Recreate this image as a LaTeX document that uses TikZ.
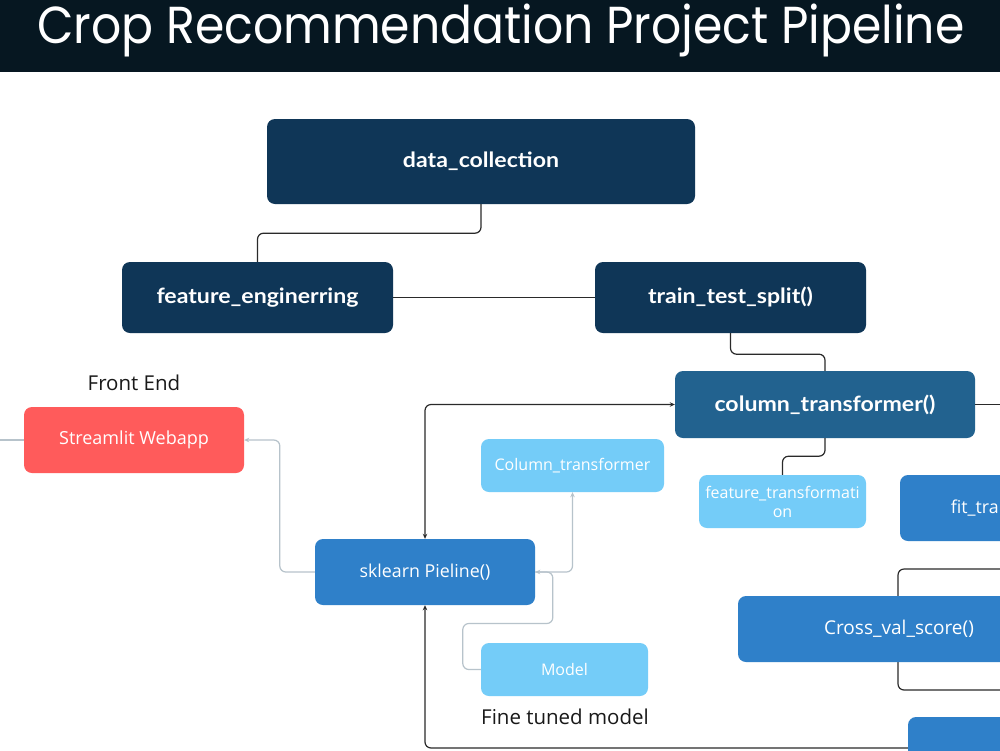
\documentclass[tikz,border=0pt]{standalone}
\usepackage{fontspec}
\usepackage{graphicx}
\setmainfont{Open Sans}
\newfontfamily\titlefont{Poppins}
\newfontfamily\headfont[FakeStretch=1.1]{Lato}
\usetikzlibrary{arrows.meta}
\definecolor{titlebar}{HTML}{061721}
\definecolor{navy}{HTML}{0F3657}
\definecolor{ctblue}{HTML}{22628F}
\definecolor{medblue}{HTML}{2F80C9}
\definecolor{lightblue}{HTML}{74CCF8}
\definecolor{redbox}{HTML}{FF5B5B}
\definecolor{linegray}{HTML}{B7C3CB}
\definecolor{lineblack}{HTML}{2A2A2A}
\begin{document}
\begin{tikzpicture}[x=1pt,y=-1pt,
  boxbase/.style={rounded corners=8pt, inner sep=0pt, align=center, text=white},
  navybox/.style={boxbase, fill=navy, font=\headfont\bfseries\fontsize{21}{24}\selectfont},
  ctbox/.style={boxbase, fill=ctblue, font=\headfont\bfseries\fontsize{21}{24}\selectfont},
  medbox/.style={boxbase, fill=medblue, text=white, font=\fontsize{17.8}{21}\selectfont},
  lightbox/.style={boxbase, fill=lightblue, font=\fontsize{16}{19}\selectfont},
  redbx/.style={boxbase, fill=redbox, font=\fontsize{18}{21}\selectfont},
  caption/.style={inner sep=0pt, text=black!90, font=\fontsize{20.5}{24}\selectfont},
  blackline/.style={draw=lineblack, line width=1.2pt, rounded corners=6pt},
  grayline/.style={draw=linegray, line width=1.2pt, rounded corners=6pt},
  tip/.tip={Stealth[length=5pt,width=4.5pt]}
]
\useasboundingbox (0,0) rectangle (1000,750);
\clip (0,0) rectangle (1000,750);
\fill[white] (0,0) rectangle (1000,750);
\fill[titlebar] (0,0) rectangle (1000,72);
\node[anchor=base, inner sep=0pt, text=white, font=\titlefont\fontsize{52}{56}\selectfont] (title) at (501,43)
  {\resizebox{927pt}{\height}{Crop Recommendation Project Pipeline}};

% coordinates for free connector ends
\coordinate (ctr) at (1010,404.5);
\coordinate (swl) at (-10,440);
\coordinate (fa) at (1010,569);
\coordinate (fb) at (1010,690);

% frame behind Cross_val_score
\draw[blackline] (fa) -- ++(-112,0) |- (fb);

% nodes
\node[navybox, minimum width=428pt, minimum height=85pt] (dc) at (481,161.5) {data\_collection};
\node[navybox, minimum width=271pt, minimum height=71pt] (fe) at (257.5,297.5) {feature\_enginerring};
\node[navybox, minimum width=271pt, minimum height=71pt] (tts) at (730.5,297.5) {train\_test\_split()};
\node[ctbox, minimum width=300pt, minimum height=67pt] (ct) at (825,404.5) {column\_transformer()};
\node[lightbox, minimum width=167pt, minimum height=53pt] (ft) at (782.5,501.5) {feature\_transformati\\on};
\node[medbox, minimum width=220pt, minimum height=66pt] (fit) at (1010,508) {fit\_transform()};
\node[medbox, minimum width=322pt, minimum height=66pt, font=\fontsize{19}{22}\selectfont] (cvs) at (899,629) {Cross\_val\_score()};
\node[medbox, minimum width=200pt, minimum height=62pt] (bot) at (1008,748) {};
\node[redbx, minimum width=220pt, minimum height=66pt] (sw) at (134,440) {Streamlit Webapp};
\node[lightbox, minimum width=183pt, minimum height=53pt] (ctl) at (572.5,465.5) {Column\_transformer};
\node[medbox, minimum width=220pt, minimum height=66pt] (skl) at (425,572) {sklearn Pieline()};
\node[lightbox, minimum width=167pt, minimum height=53pt] (mdl) at (564.5,669.5) {Model};
\node[caption] (fend) at (134,383) {Front End};
\node[caption] (ftm) at (565,717) {Fine tuned model};

% black connectors
\draw[blackline] (dc.south) -- ++(0,29) -| (fe.north);
\draw[blackline] (fe.east) -- (tts.west);
\draw[blackline] (tts.south) -- ++(0,21) -| (ct.north);
\draw[blackline] (ct.south) -- ++(0,18) -| (ft.north);
\draw[blackline] (ct.east) -- (ctr);
\draw[blackline, {tip}-{tip}] (ct.west) -| (skl.north);
\draw[blackline, -{tip}] (bot.west) -| (skl.south);

% gray connectors
\draw[grayline] (sw.west) -- (swl);
\draw[grayline, -{tip}] (skl.west) -- ++(-35,0) |- (sw.east);
\draw[grayline, -{tip}] (skl.east) -| (ctl.south);
\draw[grayline, -{tip}] (mdl.west) -- ++(-18,0) -- ++(0,-46) -- ++(90,0) |- (skl.east);
\end{tikzpicture}
\end{document}
